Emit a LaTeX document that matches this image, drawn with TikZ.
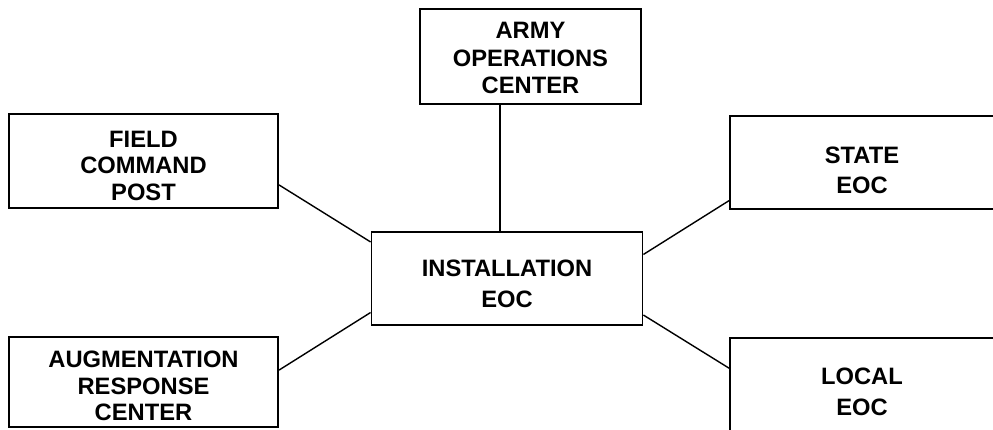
\documentclass[tikz,border=0pt]{standalone}
\usepackage{fontspec}
\setmainfont{Liberation Sans}
\usetikzlibrary{calc}

\begin{document}
\begin{tikzpicture}[x=0.02cm,y=-0.02cm,
    box/.style={draw,line width=1.1pt,inner sep=0pt},
    twolines/.style={align=center,inner sep=0pt,font=\bfseries\fontsize{13.5}{17.5}\selectfont},
    threelines/.style={align=center,inner sep=0pt,font=\bfseries\fontsize{13.5}{15.1}\selectfont},
    link/.style={line width=0.8pt}]
  \useasboundingbox (0,0) rectangle (993,429);
  % boxes
  \node[box,minimum width=5.42cm,minimum height=1.86cm,
    label={[twolines,yshift=-3.1pt]center:INSTALLATION\\EOC}] (inst) at (507,278.5) {};
  \node[box,minimum width=4.42cm,minimum height=1.9cm,
    label={[threelines,font=\bfseries\fontsize{13.5}{15.6}\selectfont,yshift=-0.9pt]center:ARMY\\OPERATIONS\\CENTER}] (army) at (530.5,56.5) {};
  \node[box,minimum width=5.38cm,minimum height=1.88cm,
    label={[threelines,yshift=-2.8pt]center:FIELD\\COMMAND\\POST}] (field) at (143.5,161) {};
  \node[box,minimum width=5.38cm,minimum height=1.8cm,
    label={[threelines,yshift=-2.3pt]center:AUGMENTATION\\RESPONSE\\CENTER}] (aug) at (143.5,382) {};
  \node[box,minimum width=5.28cm,minimum height=1.86cm,
    label={[twolines,yshift=-4.5pt]center:STATE\\EOC}] (state) at (862,162.5) {};
  \node[box,minimum width=5.28cm,minimum height=1.86cm,
    label={[twolines,yshift=-4pt]center:LOCAL\\EOC}] (local) at (862,384.5) {};
  % links
  \draw[line width=0.6pt] ([xshift=-0.61cm]army.south) -- ([xshift=-0.61cm]army.south |- inst.north);
  \draw[link] (field.-10) -- (inst.165);
  \draw[link] (aug.5) -- (inst.-166);
  \draw[link] (inst.10) -- (state.196);
  \draw[link] (inst.-15) -- (local.173);
\end{tikzpicture}
\end{document}
